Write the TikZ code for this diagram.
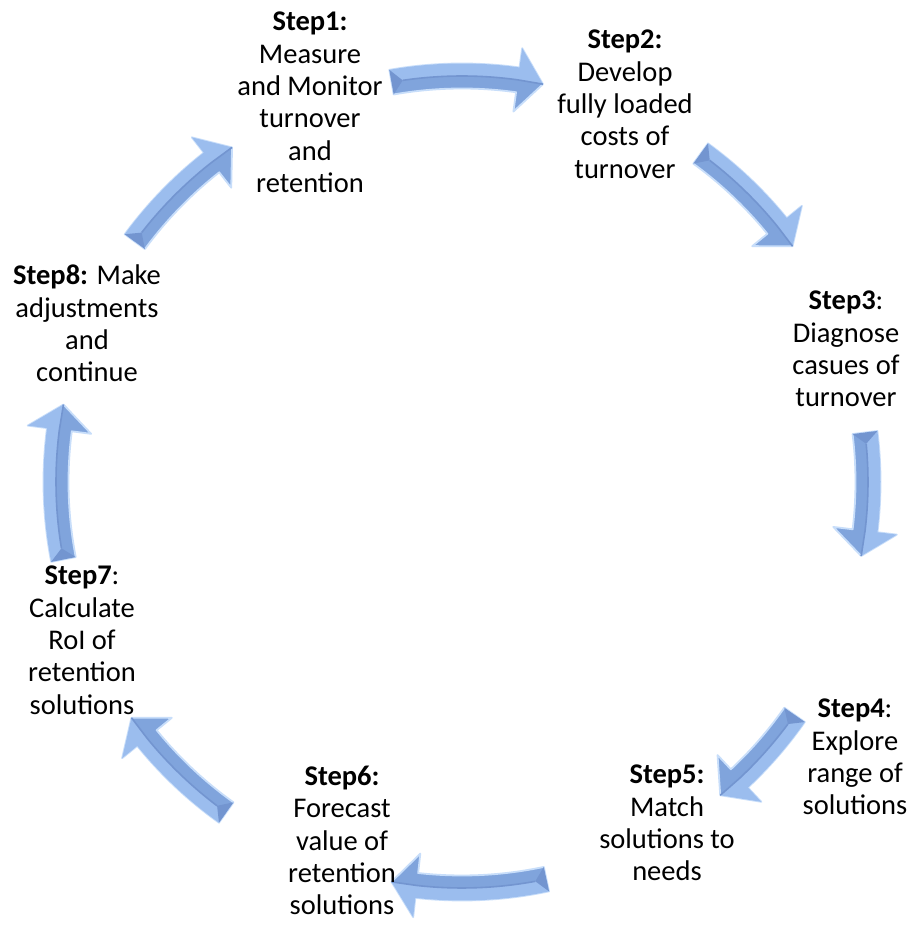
\documentclass[tikz,border=0pt]{standalone}
\usepackage{fontspec}
\setmainfont{Carlito}
\definecolor{arrbase}{RGB}{128,164,220}
\definecolor{arrlight}{RGB}{155,189,238}
\definecolor{arrdark}{RGB}{115,149,208}
\definecolor{arrglow}{RGB}{200,222,250}
\tikzset{
  steptext/.style={anchor=north, align=center, inner sep=0pt,
    font=\fontsize{28.5}{32.3}\selectfont},
  arrowbody/.style={fill=arrbase, draw=arrglow, line width=1.8pt, line join=round},
}
\def\Rmid{406pt}
\def\Rout{418.5pt}
\def\Rin{393.5pt}
\def\Rhout{438pt}
\def\Rhin{374pt}
\def\headang{3.6}
\newcommand{\blockarc}[2]{%
  \pgfmathsetmacro{\hA}{#2+\headang}%
  \pgfmathsetmacro{\tB}{#1-1.6}%
  \path[arrowbody] (#1:\Rout) arc[start angle=#1, end angle=\hA, radius=\Rout]
    -- (\hA:\Rhout) -- (#2:\Rmid) -- (\hA:\Rhin) -- (\hA:\Rin)
    arc[start angle=\hA, end angle=#1, radius=\Rin] -- cycle;
  \fill[arrlight] (#1:\Rout) arc[start angle=#1, end angle=\hA, radius=\Rout]
    -- (\hA:\Rhout) -- (#2:\Rmid) -- (\hA:\Rmid)
    arc[start angle=\hA, end angle=#1, radius=\Rmid] -- cycle;
  \draw[arrdark, line width=1.6pt] (\tB:\Rmid) arc[start angle=\tB, end angle=\hA, radius=\Rmid] -- (#2:\Rmid);
  \fill[arrdark] (#1:\Rout) -- (\tB:\Rmid) -- (#1:\Rin) -- cycle;
}
\begin{document}
\begin{tikzpicture}[x=1pt,y=1pt]
\useasboundingbox (0,0) rectangle (908,938);
\fill[white] (0,0) rectangle (908,938);
\coordinate (C) at (462,456);
\begin{scope}[shift={(C)}]
  \blockarc{100}{78.5}
  \blockarc{54}{35.5}
  \blockarc{7}{-10.5}
  \blockarc{-35}{-50.5}
  \blockarc{-78}{-100}
  \blockarc{-125.5}{-144.5}
  \blockarc{191}{169}
  \blockarc{143.7}{124.5}
\end{scope}
\node[steptext] (s1) at (310,926) {\textbf{Step1:}\\Measure\\and Monitor\\turnover\\and\\retention};
\node[steptext] (s2) at (625,908) {\textbf{Step2:}\\Develop\\fully loaded\\costs of\\turnover};
\node[steptext] (s3) at (846,647) {\textbf{Step3}:\\Diagnose\\casues of\\turnover};
\node[steptext] (s4) at (855,239) {\textbf{Step4}:\\Explore\\range of\\solutions};
\node[steptext] (s5) at (667,173) {\textbf{Step5:}\\Match\\solutions to\\needs};
\node[steptext] (s6) at (342,172) {\textbf{Step6:}\\Forecast\\value of\\retention\\solutions};
\node[steptext] (s7) at (82,372) {\textbf{Step7}:\\Calculate\\RoI of\\retention\\solutions};
\node[steptext] (s8) at (87,673) {\textbf{Step8:} Make\\adjustments\\and\\continue};
\end{tikzpicture}
\end{document}
